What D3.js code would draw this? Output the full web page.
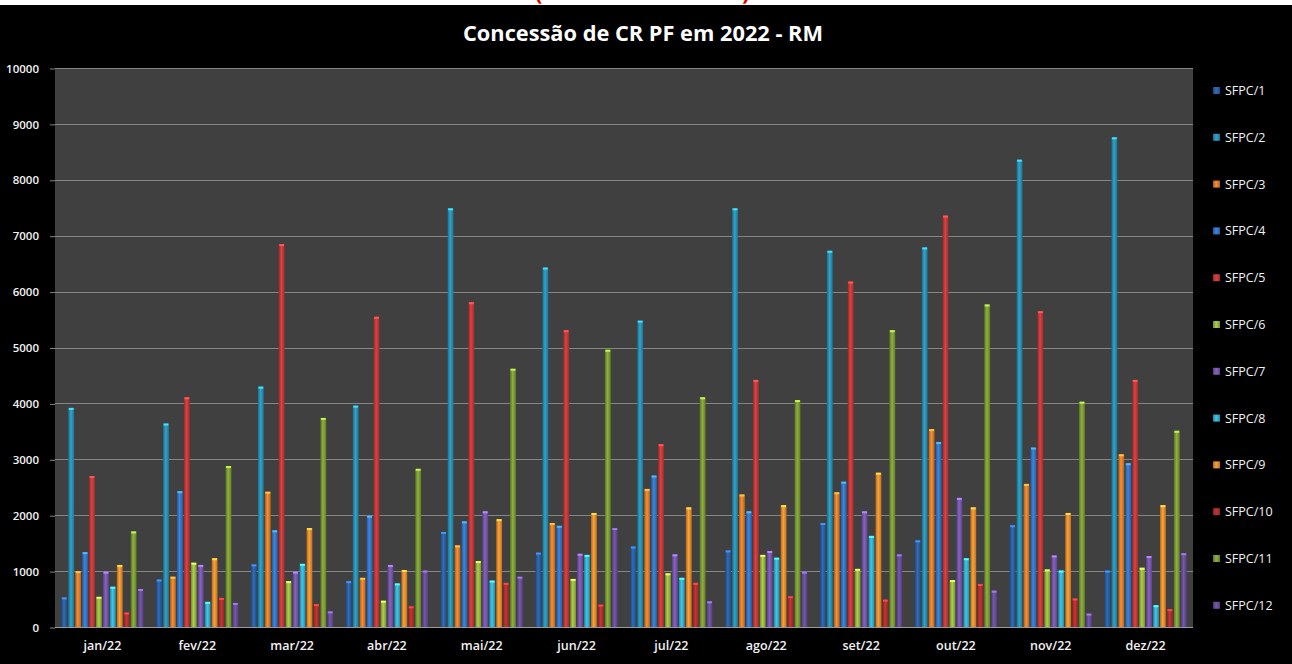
<!DOCTYPE html>
<html>
<head>
<meta charset="utf-8">
<script src="https://cdn.jsdelivr.net/npm/d3@7"></script>
<style>
  body { margin: 0; background: #000; }
  svg { display: block; }
</style>
</head>
<body>
<div id="chart"></div>
<script>
var svgWidth = 1292;
var svgHeight = 664;

// chart data
var months = ["jan/22", "fev/22", "mar/22", "abr/22", "mai/22", "jun/22",
  "jul/22", "ago/22", "set/22", "out/22", "nov/22", "dez/22"];
var seriesNames = ["SFPC/1", "SFPC/2", "SFPC/3", "SFPC/4", "SFPC/5", "SFPC/6",
  "SFPC/7", "SFPC/8", "SFPC/9", "SFPC/10", "SFPC/11", "SFPC/12"];
var sfpc1 = [530, 850, 1120, 820, 1700, 1330, 1440, 1370, 1860, 1550, 1820, 1010];
var sfpc2 = [3920, 3640, 4300, 3960, 7490, 6430, 5480, 7490, 6730, 6790, 8360, 8760];
var sfpc3 = [1000, 900, 2420, 880, 1460, 1860, 2470, 2370, 2410, 3540, 2560, 3090];
var sfpc4 = [1340, 2430, 1730, 1990, 1890, 1810, 2710, 2070, 2600, 3310, 3210, 2930];
var sfpc5 = [2700, 4110, 6850, 5550, 5810, 5310, 3270, 4420, 6180, 7360, 5650, 4420];
var sfpc6 = [540, 1150, 820, 470, 1180, 860, 960, 1290, 1040, 840, 1030, 1060];
var sfpc7 = [990, 1110, 990, 1110, 2070, 1310, 1300, 1360, 2070, 2310, 1280, 1270];
var sfpc8 = [720, 450, 1130, 780, 830, 1290, 880, 1240, 1630, 1230, 1010, 390];
var sfpc9 = [1110, 1230, 1770, 1020, 1930, 2040, 2140, 2180, 2760, 2140, 2040, 2180];
var sfpc10 = [260, 520, 410, 370, 790, 400, 790, 550, 490, 770, 510, 320];
var sfpc11 = [1710, 2880, 3740, 2830, 4620, 4960, 4110, 4060, 5310, 5770, 4030, 3510];
var sfpc12 = [680, 430, 280, 1010, 900, 1770, 460, 990, 1300, 650, 240, 1320];
var yTicks = [0, 1000, 2000, 3000, 4000, 5000, 6000, 7000, 8000, 9000, 10000];

var seriesValues = [sfpc1, sfpc2, sfpc3, sfpc4, sfpc5, sfpc6,
  sfpc7, sfpc8, sfpc9, sfpc10, sfpc11, sfpc12];
var colors = ["#2b62a8", "#2a93b8", "#e3802a", "#3479cc", "#c93a3a", "#9bbb3f",
  "#7a58b0", "#35b4d6", "#f2922e", "#b52f2f", "#7fa034", "#6a4f9c"];

var plot = { left: 55, right: 1193, top: 68, bottom: 627 };

var svg = d3.select("#chart")
  .append("svg")
  .attr("width", svgWidth)
  .attr("height", svgHeight);

svg.append("rect")
  .attr("width", svgWidth)
  .attr("height", svgHeight)
  .attr("fill", "#000");

// white strip at the top, with the bottom of a red heading peeking in
svg.append("rect")
  .attr("width", svgWidth)
  .attr("height", 5)
  .attr("fill", "#fff");
svg.append("clipPath").attr("id", "stripClip")
  .append("rect").attr("width", svgWidth).attr("height", 5);
var strip = svg.append("g").attr("clip-path", "url(#stripClip)");
strip.append("text")
  .attr("x", 535).attr("y", 0)
  .attr("fill", "#e00000")
  .attr("font-family", "Open Sans, sans-serif")
  .attr("font-weight", "bold")
  .attr("font-size", 22)
  .text("(");
strip.append("text")
  .attr("x", 742).attr("y", 0)
  .attr("fill", "#e00000")
  .attr("font-family", "Open Sans, sans-serif")
  .attr("font-weight", "bold")
  .attr("font-size", 22)
  .text(")");

// gradients for cylinder-like bars
var defs = svg.append("defs");
colors.forEach(function(c, i) {
  var g = defs.append("linearGradient")
    .attr("id", "grad" + i)
    .attr("x1", "0%").attr("x2", "100%")
    .attr("y1", "0%").attr("y2", "0%");
  g.append("stop").attr("offset", "0%").attr("stop-color", d3.color(c).darker(0.9));
  g.append("stop").attr("offset", "45%").attr("stop-color", d3.color(c).brighter(0.3));
  g.append("stop").attr("offset", "100%").attr("stop-color", d3.color(c).darker(0.7));
});

// plot background
svg.append("rect")
  .attr("x", plot.left)
  .attr("y", plot.top)
  .attr("width", plot.right - plot.left)
  .attr("height", plot.bottom - plot.top)
  .attr("fill", "#404040");

var x0 = d3.scaleBand()
  .domain(months)
  .range([plot.left, plot.right])
  .paddingInner(0.11)
  .paddingOuter(0.055);

var x1 = d3.scaleBand()
  .domain(seriesNames)
  .range([0, x0.bandwidth()])
  .padding(0.16);

var y = d3.scaleLinear()
  .domain([0, 10000])
  .range([plot.bottom, plot.top]);

// gridlines
svg.append("g")
  .selectAll("line")
  .data(yTicks)
  .enter()
  .append("line")
  .attr("x1", plot.left)
  .attr("x2", plot.right)
  .attr("y1", d => Math.round(y(d)) + 0.5)
  .attr("y2", d => Math.round(y(d)) + 0.5)
  .attr("stroke", d => d === 0 ? "#9a9a9a" : "#858585")
  .attr("stroke-width", 1);

// y axis
var leftAxis = d3.axisLeft(y)
  .tickValues(yTicks)
  .tickSize(5)
  .tickPadding(11)
  .tickFormat(d3.format("d"));

var yAxis = svg.append("g")
  .attr("transform", `translate(${plot.left}, 0.5)`)
  .call(leftAxis);
yAxis.select(".domain").remove();
yAxis.selectAll(".tick line").attr("stroke", "#858585");
yAxis.selectAll("text")
  .attr("fill", "#f2f2f2")
  .attr("font-family", "Open Sans, sans-serif")
  .attr("font-weight", 600)
  .attr("font-size", 11.5);

// x axis labels
var bottomAxis = d3.axisBottom(x0).tickSize(0).tickPadding(14);
var xAxis = svg.append("g")
  .attr("transform", `translate(0, ${plot.bottom})`)
  .call(bottomAxis);
xAxis.select(".domain").remove();
xAxis.selectAll("text")
  .attr("fill", "#f2f2f2")
  .attr("font-family", "Open Sans, sans-serif")
  .attr("font-weight", 600)
  .attr("font-size", 12.5);

// bars
var rows = months.map(function(m, i) {
  return seriesNames.map(function(s, j) {
    return { month: m, series: s, idx: j, value: seriesValues[j][i] };
  });
});

var groups = svg.append("g")
  .selectAll("g")
  .data(rows)
  .enter()
  .append("g")
  .attr("transform", (d, i) => `translate(${x0(months[i])}, 0)`);

groups.selectAll("rect.bar")
  .data(d => d)
  .enter()
  .append("rect")
  .attr("class", "bar")
  .attr("x", d => x1(d.series))
  .attr("y", d => y(d.value))
  .attr("width", x1.bandwidth())
  .attr("height", d => y(0) - y(d.value))
  .attr("fill", d => `url(#grad${d.idx})`);

// light cap on top of each bar
groups.selectAll("rect.cap")
  .data(d => d)
  .enter()
  .append("rect")
  .attr("class", "cap")
  .attr("x", d => x1(d.series) + 0.5)
  .attr("y", d => y(d.value))
  .attr("width", x1.bandwidth() - 1)
  .attr("height", 2)
  .attr("fill", d => d3.color(colors[d.idx]).brighter(1.2));

// title
svg.append("text")
  .attr("x", 643)
  .attr("y", 41)
  .attr("text-anchor", "middle")
  .attr("fill", "#fff")
  .attr("font-family", "Open Sans, sans-serif")
  .attr("font-weight", "bold")
  .attr("font-size", 21)
  .attr("textLength", 360)
  .attr("lengthAdjust", "spacingAndGlyphs")
  .text("Concessão de CR PF em 2022 - RM");

// legend
var legend = svg.append("g")
  .selectAll("g")
  .data(seriesNames)
  .enter()
  .append("g")
  .attr("transform", (d, i) => `translate(1213, ${91 + i * 46.8})`);

legend.append("rect")
  .attr("x", 0)
  .attr("y", -4)
  .attr("width", 7)
  .attr("height", 7)
  .attr("fill", (d, i) => `url(#grad${i})`);

legend.append("text")
  .attr("x", 12)
  .attr("y", 4)
  .attr("fill", "#f2f2f2")
  .attr("font-family", "Open Sans, sans-serif")
  .attr("font-size", 12.5)
  .text(d => d);
</script>
</body>
</html>
